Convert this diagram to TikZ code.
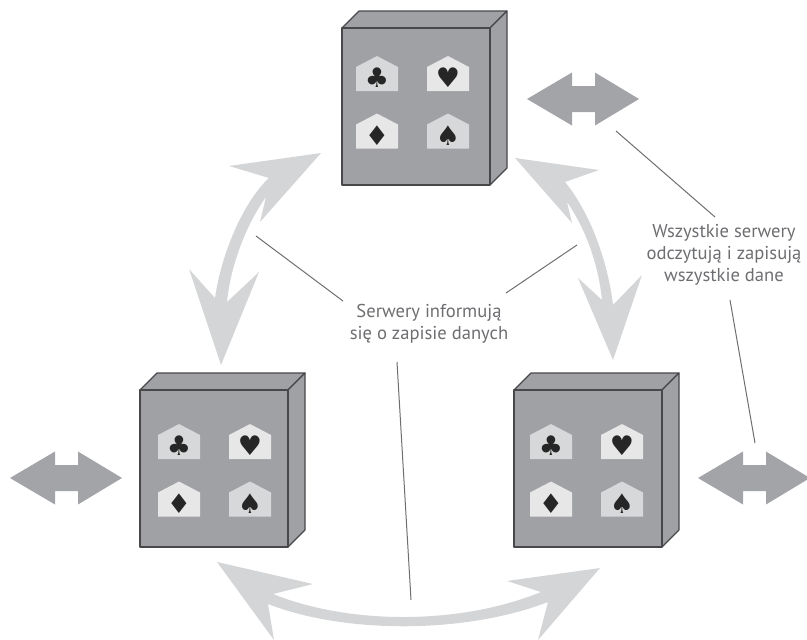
\documentclass[tikz,border=0pt]{standalone}
\usepackage{fontspec}
\setmainfont{PT Sans}
\newfontfamily\suitfont{DejaVu Sans}
\definecolor{boxgray}{HTML}{A0A1A5}
\definecolor{boxline}{HTML}{48484B}
\definecolor{arrowdark}{HTML}{A3A4A8}
\definecolor{arrowlight}{HTML}{D4D5D7}
\definecolor{textgray}{HTML}{6D6E71}
\tikzset{
	boxface/.style={fill=boxgray,draw=boxline,line width=1.1pt,line join=round},
	suit/.style={font=\suitfont\fontsize{27}{27}\selectfont,text=black!85,inner sep=0pt},
	label/.style={align=center,text=textgray,font=\fontsize{18.6}{22}\selectfont,inner sep=0pt},
	leader/.style={draw=textgray,line width=1pt},
	syncarrow/.style={fill=arrowlight},
	clientarrow/.style={fill=arrowdark}
}
\begin{document}
\begin{tikzpicture}[x=1pt,y=-1pt]
	\useasboundingbox (0,0) rectangle (807,640);
	% servers
	\foreach \nm/\bx/\by/\hx/\hy in {top/342/28/356/56,left/140/390/158/424,right/514/390/530/424}{
		\draw[boxface] (\bx,\by) -- +(17,-17) -- +(165,-17) -- +(148,0) -- cycle;
		\draw[boxface] (\bx+148,\by) -- +(17,-17) -- +(17,140) -- +(0,157) -- cycle;
		\draw[boxface] (\bx,\by) rectangle +(148,157);
		\foreach \sn/\sc/\col/\dx/\dy in {club/♣/D7D8D9/0/0,heart/♥/E7E7E8/71/0,diamond/♦/E7E7E8/0/57.5,spade/♠/D7D8D9/71/57.5}{
			\definecolor{housecol}{HTML}{\col}
			\fill[housecol] (\hx+\dx,\hy+\dy+11) -- (\hx+\dx+21,\hy+\dy) -- (\hx+\dx+42,\hy+\dy+11) -- (\hx+\dx+42,\hy+\dy+35) -- (\hx+\dx,\hy+\dy+35) -- cycle;
			\node[suit] (\nm-\sn) at (\hx+\dx+21,\hy+\dy+22) {\sc};
		}
	}
	% client arrows
	\foreach \ax/\ay in {527/99,10/478,698/478}{
		\fill[clientarrow] (\ax,\ay) -- +(45,-26.5) -- +(45,-13) -- +(68,-13) -- +(68,-26.5) -- +(112,0) -- +(68,26.5) -- +(68,13) -- +(45,13) -- +(45,26.5) -- cycle;
	}
	% sync arrows
	\fill[syncarrow] (321,153) -- (229,166) -- (269,178) .. controls (245,200) and (222,250) .. (215,298) -- (189,269) -- (221,365) -- (259,272) -- (227,302) .. controls (231,262) and (248,222) .. (266,197) -- (260,222) -- cycle;
	\fill[syncarrow] (515,158) -- (599,170) -- (565,182) .. controls (590,212) and (608,262) .. (613,305) -- (642,275) -- (613,360) -- (578,278) -- (602,300) .. controls (598,262) and (585,228) .. (567,202) -- (572,223) -- cycle;
	\fill[syncarrow] (217,562) -- (313,584) -- (273,594) .. controls (350,625) and (460,625) .. (541,592) -- (507,581) -- (600,568) -- (538,640) -- (548,602) .. controls (465,634) and (345,634) .. (268,604) -- (274,640) -- cycle;
	% labels
	\node[label] (info) at (429,324) {Serwery informują\\się o zapisie danych};
	\node[label] (all) at (724,255) {Wszystkie serwery\\odczytują i zapisują\\wszystkie dane};
	\coordinate (infoA) at (256,236);
	\coordinate (infoAend) at (343,301);
	\coordinate (infoB) at (577,245);
	\coordinate (infoBend) at (506,293);
	\coordinate (infoC) at (411,600);
	\coordinate (infoCend) at (397,362);
	\coordinate (allA) at (616,131);
	\coordinate (allAend) at (715,217);
	\coordinate (allB) at (755,443);
	\coordinate (allBend) at (730,300);
	\draw[leader] (infoA) -- (infoAend);
	\draw[leader] (infoB) -- (infoBend);
	\draw[leader] (infoC) -- (infoCend);
	\draw[leader] (allA) -- (allAend);
	\draw[leader] (allB) -- (allBend);
\end{tikzpicture}
\end{document}
